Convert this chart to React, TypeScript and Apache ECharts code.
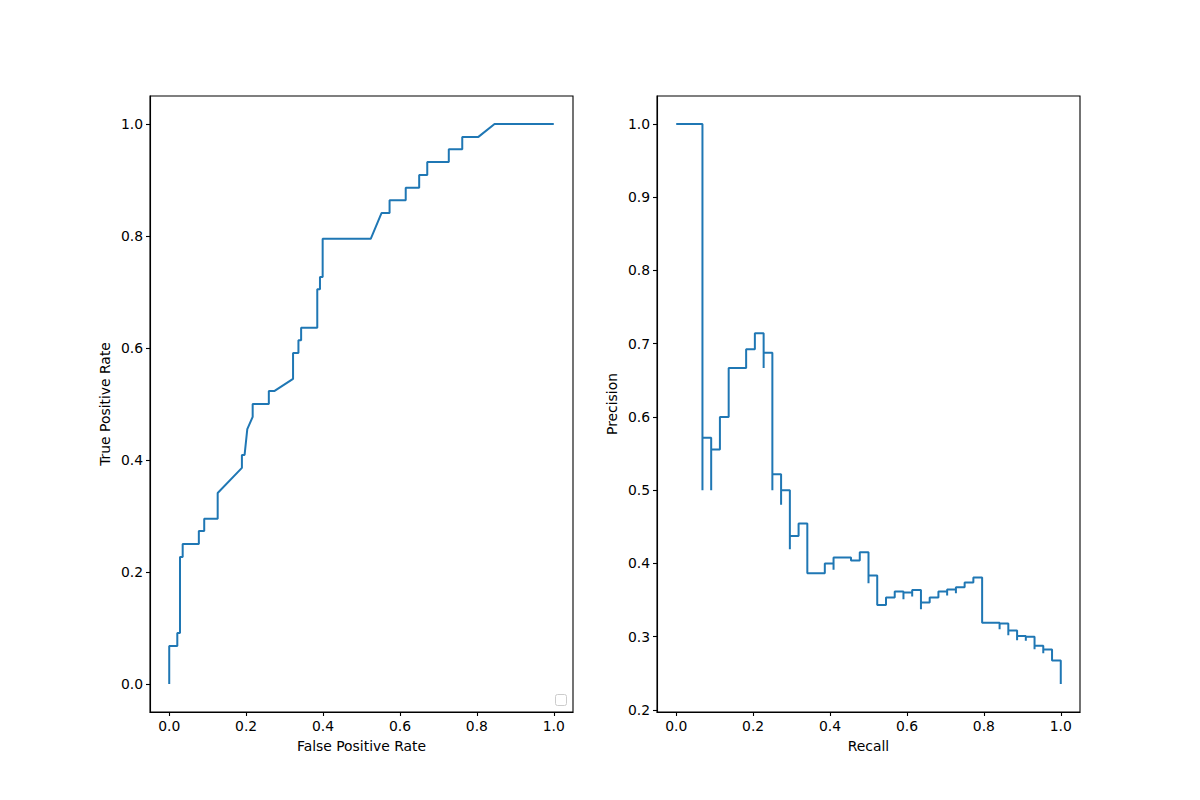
import React, { useEffect, useRef } from "react";
import * as echarts from "echarts";

// ROC curve (false positive rate, true positive rate)
const rocFpr = [
  0, 0, 0.021, 0.021, 0.028, 0.028, 0.035, 0.035, 0.077, 0.077, 0.091, 0.091,
  0.126, 0.126, 0.189, 0.189, 0.196, 0.203, 0.217, 0.217, 0.259, 0.259, 0.273,
  0.322, 0.322, 0.336, 0.336, 0.343, 0.343, 0.385, 0.385, 0.392, 0.392, 0.399,
  0.399, 0.524, 0.552, 0.573, 0.573, 0.615, 0.615, 0.65, 0.65, 0.671, 0.671,
  0.727, 0.727, 0.762, 0.762, 0.804, 0.846, 1.0,
];
const rocTpr = [
  0, 0.068, 0.068, 0.091, 0.091, 0.227, 0.227, 0.25, 0.25, 0.273, 0.273, 0.295,
  0.295, 0.341, 0.386, 0.409, 0.409, 0.455, 0.477, 0.5, 0.5, 0.523, 0.523,
  0.545, 0.591, 0.591, 0.614, 0.614, 0.636, 0.636, 0.705, 0.705, 0.727, 0.727,
  0.795, 0.795, 0.841, 0.841, 0.864, 0.864, 0.886, 0.886, 0.909, 0.909, 0.932,
  0.932, 0.955, 0.955, 0.977, 0.977, 1.0, 1.0,
];

// Precision-recall curve points (increasing recall)
const prRecall = [
  0, 0.0682, 0.0682, 0.0909, 0.0909, 0.1136, 0.1364, 0.1818, 0.2045, 0.2273,
  0.2273, 0.25, 0.25, 0.2727, 0.2727, 0.2955, 0.2955, 0.3182, 0.3409, 0.3864,
  0.4091, 0.4091, 0.4545, 0.4773, 0.5, 0.5, 0.5227, 0.5455, 0.5682, 0.5909,
  0.5909, 0.6136, 0.6136, 0.6364, 0.6364, 0.6591, 0.6818, 0.7045, 0.7045,
  0.7273, 0.7273, 0.75, 0.7727, 0.7955, 0.8409, 0.8409, 0.8636, 0.8636, 0.8864,
  0.8864, 0.9091, 0.9091, 0.9318, 0.9318, 0.9545, 0.9545, 0.9773, 0.9773, 1.0,
  1.0,
];
const prPrecision = [
  1.0, 1.0, 0.5, 0.5714, 0.5, 0.5556, 0.6, 0.6667, 0.6923, 0.7143, 0.6667,
  0.6875, 0.5, 0.5217, 0.48, 0.5, 0.4194, 0.4375, 0.4545, 0.3864, 0.4, 0.3913,
  0.4082, 0.4038, 0.4151, 0.3729, 0.3833, 0.3433, 0.3533, 0.3615, 0.351,
  0.3601, 0.3547, 0.3638, 0.3375, 0.3465, 0.3533, 0.3615, 0.356, 0.3642,
  0.3593, 0.3675, 0.3738, 0.3806, 0.319, 0.31, 0.3178, 0.302, 0.3083, 0.2952,
  0.301, 0.2942, 0.2997, 0.2829, 0.2874, 0.2774, 0.2823, 0.2673, 0.2673, 0.2353,
];

const unitTicks = [0, 0.2, 0.4, 0.6, 0.8, 1.0];
const precisionTicks = [0.2, 0.3, 0.4, 0.5, 0.6, 0.7, 0.8, 0.9, 1.0];

const FONT = "DejaVu Sans";
const FS = 13.9;
const LINE = "#1f77b4";

function valueAxis(
  gridIndex: number,
  min: number,
  max: number,
  ticks: number[],
  name: string,
  isX: boolean
) {
  return {
    type: "value",
    gridIndex,
    min,
    max,
    name,
    nameLocation: "middle",
    nameGap: isX ? 27 : 38,
    nameTextStyle: { fontFamily: FONT, fontSize: FS, color: "#000" },
    axisLine: { show: true, onZero: false, lineStyle: { color: "#000", width: 1.1 } },
    axisTick: {
      show: true,
      customValues: ticks,
      length: 4,
      inside: false,
      lineStyle: { color: "#000", width: 1.1 },
    },
    axisLabel: {
      show: true,
      customValues: ticks,
      margin: 7,
      fontFamily: FONT,
      fontSize: FS,
      color: "#000",
      formatter: (v: number) => v.toFixed(1),
    },
    splitLine: { show: false },
  };
}

export default function App() {
  const ref = useRef<HTMLDivElement>(null);

  useEffect(() => {
    if (!ref.current) return;
    const chart = echarts.init(ref.current, undefined, { renderer: "svg" });
    const rocData = rocFpr.map((x, i) => [x, rocTpr[i]]);
    const prData = prRecall.map((x, i) => [x, prPrecision[i]]);
    const gridBase = {
      top: 96,
      width: 423,
      height: 616,
      show: true,
      borderColor: "#000",
      borderWidth: 1.1,
      backgroundColor: "#fff",
      containLabel: false,
      outerBoundsMode: "none",
    };
    chart.setOption({
      animation: false,
      backgroundColor: "#fff",
      textStyle: { fontFamily: FONT },
      grid: [
        { ...gridBase, left: 150 },
        { ...gridBase, left: 657 },
      ],
      xAxis: [
        valueAxis(0, -0.05, 1.05, unitTicks, "False Positive Rate", true),
        valueAxis(1, -0.05, 1.05, unitTicks, "Recall", true),
      ],
      yAxis: [
        valueAxis(0, -0.05, 1.05, unitTicks, "True Positive Rate", false),
        valueAxis(1, 0.19706, 1.03824, precisionTicks, "Precision", false),
      ],
      series: [
        {
          type: "line",
          xAxisIndex: 0,
          yAxisIndex: 0,
          data: rocData,
          symbol: "none",
          lineStyle: { color: LINE, width: 2 },
          clip: true,
        },
        {
          type: "line",
          xAxisIndex: 1,
          yAxisIndex: 1,
          data: prData,
          step: "start",
          symbol: "none",
          lineStyle: { color: LINE, width: 2 },
          clip: true,
        },
      ],
      graphic: [
        {
          type: "rect",
          shape: { x: 555.5, y: 694.5, width: 11, height: 11, r: 2 },
          style: { fill: "rgba(255,255,255,0.8)", stroke: "#cccccc", lineWidth: 1 },
          z: 100,
        },
      ],
    });
    return () => chart.dispose();
  }, []);

  return (
    <div
      ref={ref}
      style={{ position: "fixed", left: 0, top: 0, width: 1200, height: 800, background: "#fff" }}
    />
  );
}
